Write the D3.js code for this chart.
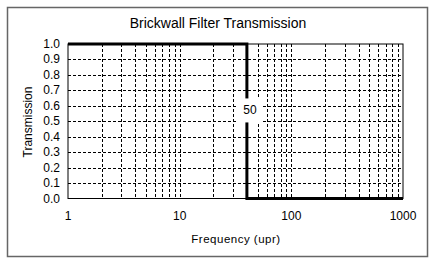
<!DOCTYPE html>
<html><head><meta charset="utf-8">
<script src="https://cdn.jsdelivr.net/npm/d3@7"></script>
<style>body{margin:0;background:#fff;}svg{display:block;font-family:"Liberation Sans",Arial,sans-serif;}</style>
</head><body>
<svg id="c" width="439" height="267"></svg>
<script>
const title = "Brickwall Filter Transmission";
const xLabel = "Frequency (upr)";
const yLabel = "Transmission";
const freq = [1, 40, 40, 1000];
const trans = [1, 1, 0, 0];
const cutoffLabel = "50";
const xTicks = [1, 10, 100, 1000];
const yTicks = [0, 0.1, 0.2, 0.3, 0.4, 0.5, 0.6, 0.7, 0.8, 0.9, 1.0];

const svg = d3.select("#c");
const m = {l: 68, r: 403, t: 44, b: 198.5};
svg.append("rect").attr("x", 7.5).attr("y", 7.5).attr("width", 420).attr("height", 249)
  .attr("fill", "#fff").attr("stroke", "#666").attr("stroke-width", 1.5);

const x = d3.scaleLog().domain([1, 1000]).range([m.l, m.r]);
const y = d3.scaleLinear().domain([0, 1]).range([m.b, m.t]);

// grid
const minor = [];
for (let d = 1; d < 1000; d *= 10) for (let k = 2; k <= 10; k++) { if (d * k < 1000) minor.push(d * k); }
const g = svg.append("g");
g.selectAll("line.vx").data(minor).join("line")
  .attr("x1", d => Math.round(x(d)) + 0.5).attr("x2", d => Math.round(x(d)) + 0.5)
  .attr("y1", m.t).attr("y2", m.b)
  .attr("stroke", "#000").attr("stroke-width", 1).attr("stroke-dasharray", "3,2");
g.selectAll("line.hy").data(yTicks.slice(1, -1)).join("line")
  .attr("x1", m.l).attr("x2", m.r)
  .attr("y1", d => Math.round(y(d)) + 0.5).attr("y2", d => Math.round(y(d)) + 0.5)
  .attr("stroke", "#000").attr("stroke-width", 1).attr("stroke-dasharray", "3,2");

svg.append("rect").attr("x", m.l).attr("y", m.t).attr("width", m.r - m.l).attr("height", m.b - m.t)
  .attr("fill", "none").attr("stroke", "#000").attr("stroke-width", 1);

// line
const pts = freq.map((f, i) => [x(f), y(trans[i])]);
svg.append("path").attr("d", d3.line()(pts)).attr("fill", "none")
  .attr("stroke", "#000").attr("stroke-width", 3);

// label
const lx = x(freq[1]) + 3, ly = y(0.57);
svg.append("rect").attr("x", lx - 12).attr("y", ly - 12).attr("width", 24).attr("height", 24).attr("fill", "#fff");
svg.append("text").attr("x", lx).attr("y", ly + 4).attr("text-anchor", "middle")
  .attr("font-size", 12).text(cutoffLabel);

// axes labels
svg.selectAll("text.yt").data(yTicks).join("text")
  .attr("x", 60).attr("y", d => y(d) + 4).attr("text-anchor", "end").attr("font-size", 12)
  .text(d => d.toFixed(1));
svg.selectAll("text.xt").data(xTicks).join("text")
  .attr("x", d => x(d)).attr("y", 220).attr("text-anchor", "middle").attr("font-size", 12)
  .text(d => d);

svg.append("text").attr("x", 218).attr("y", 28).attr("text-anchor", "middle").attr("font-size", 14).text(title);
svg.append("text").attr("x", 236).attr("y", 243).attr("text-anchor", "middle").attr("font-size", 11.5)
  .attr("letter-spacing", 0.5).text(xLabel);
svg.append("text").attr("transform", "translate(32,122) rotate(-90)").attr("text-anchor", "middle")
  .attr("font-size", 12).text(yLabel);
</script>
</body></html>
